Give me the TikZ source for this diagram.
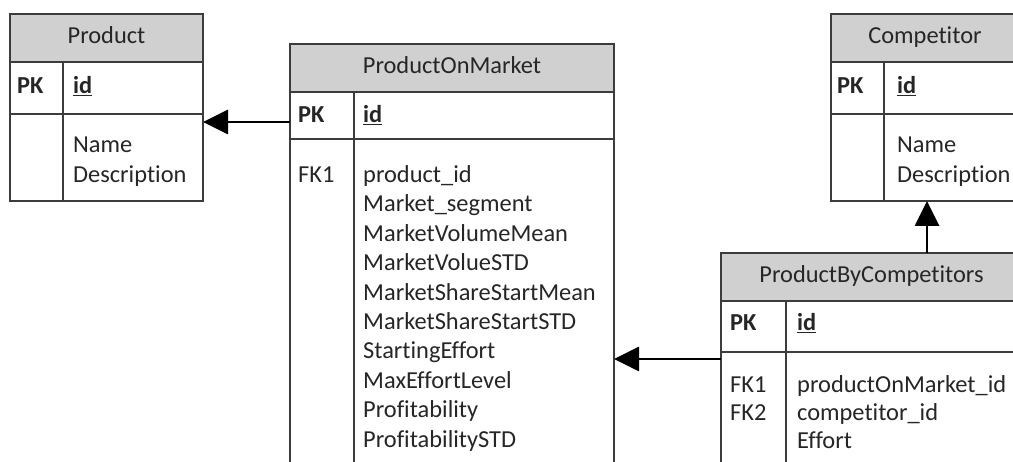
\documentclass[tikz,border=0pt]{standalone}
\usepackage{fontspec}
\setmainfont{Carlito}[Ligatures={NoCommon,NoContextual}]
\usetikzlibrary{arrows.meta}
\definecolor{hdr}{RGB}{208,208,208}
\definecolor{ln}{RGB}{60,60,60}
\tikzset{
  tbl/.style={draw=ln, line width=1.6pt, anchor=north west, inner sep=0pt, outer sep=0pt},
  hdrbox/.style={fill=hdr, draw=ln, line width=1.6pt, anchor=north west, inner sep=0pt, outer sep=0pt},
  grid/.style={draw=ln, line width=1.6pt},
  txt/.style={anchor=west, inner sep=0pt, font=\fontsize{24.4}{29}\selectfont, text height=17pt, text depth=6pt, text=black!85},
  htxt/.style={inner sep=0pt, font=\fontsize{24.4}{29}\selectfont, text height=17pt, text depth=6pt, text=black!85},
  arr/.style={line width=2.8pt, -{Triangle[length=25pt, width=24pt]}},
}
\newcommand{\pkid}{\underline{\textbf{id}}}
\begin{document}
\begin{tikzpicture}[x=1pt, y=-1pt]
\useasboundingbox (0,0) rectangle (1013,462);
\clip (0,0) rectangle (1013,462);
\fill[white] (0,0) rectangle (1013,462);

% ---------- Product ----------
\node[hdrbox, minimum width=193pt, minimum height=48pt] (prodh) at (10,14) {};
\node[tbl, minimum width=193pt, minimum height=187pt] (prod) at (10,14) {};
\draw[grid] (prod.west |- 0,114) -- (prod.east |- 0,114);
\draw[grid] (63,62) -- (63,201);
\node[htxt] (prodt) at (prodh.center) {Product};
\node[txt] (prodpk) at (17,88) {\textbf{PK}};
\node[txt] (prodid) at (73,88) {\pkid};
\node[txt] (prodn) at (73,147) {Name};
\node[txt] (prodd) at (73,177) {Description};

% ---------- ProductOnMarket ----------
\node[hdrbox, minimum width=324pt, minimum height=48pt] (pomh) at (290,44) {};
\node[tbl, minimum width=324pt, minimum height=440pt] (pom) at (290,44) {};
\draw[grid] (pom.west |- 0,139) -- (pom.east |- 0,139);
\draw[grid] (354,92) -- (354,484);
\node[htxt] (pomt) at (pomh.center) {ProductOnMarket};
\node[txt] (pompk) at (298,117) {\textbf{PK}};
\node[txt] (pomid) at (363,117) {\pkid};
\node[txt] (pomfk) at (298,177) {FK1};
\foreach \t [count=\i from 0] in {product\_id, Market\_segment, MarketVolumeMean, MarketVolueSTD, MarketShareStartMean, MarketShareStartSTD, StartingEffort, MaxEffortLevel, Profitability, ProfitabilitySTD}
  \node[txt] (pomf\i) at (363,177+29.4*\i) {\t};

% ---------- Competitor ----------
\node[hdrbox, minimum width=188pt, minimum height=48pt] (comph) at (831,14) {};
\node[tbl, minimum width=188pt, minimum height=187pt] (comp) at (831,14) {};
\draw[grid] (comp.west |- 0,114) -- (comp.east |- 0,114);
\draw[grid] (884,62) -- (884,201);
\node[htxt] (compt) at (comph.center) {Competitor};
\node[txt] (comppk) at (837,88) {\textbf{PK}};
\node[txt] (compid) at (897,88) {\pkid};
\node[txt] (compn) at (897,147) {Name};
\node[txt] (compd) at (897,177) {Description};

% ---------- ProductByCompetitors ----------
\node[hdrbox, minimum width=301pt, minimum height=48pt] (pbch) at (721,253) {};
\node[tbl, minimum width=301pt, minimum height=231pt] (pbc) at (721,253) {};
\draw[grid] (pbc.west |- 0,352) -- (pbc.east |- 0,352);
\draw[grid] (786,301) -- (786,484);
\node[htxt] (pbct) at (pbch.center) {ProductByCompetitors};
\node[txt] (pbcpk) at (730,325) {\textbf{PK}};
\node[txt] (pbcid) at (797,325) {\pkid};
\node[txt] (pbcfk1) at (730,387) {FK1};
\node[txt] (pbcfk2) at (730,415) {FK2};
\node[txt] (pbcf1) at (797,387) {productOnMarket\_id};
\node[txt] (pbcf2) at (797,415) {competitor\_id};
\node[txt] (pbcf3) at (797,443) {Effort};

% ---------- connectors ----------
\draw[arr] (pom.west |- 0,122) -- (prod.east |- 0,122);
\draw[arr] (pbc.west |- 0,359) -- (pom.east |- 0,359);
\draw[arr] (pbc.north -| 927,0) -- (comp.south -| 927,0);
\end{tikzpicture}
\end{document}
